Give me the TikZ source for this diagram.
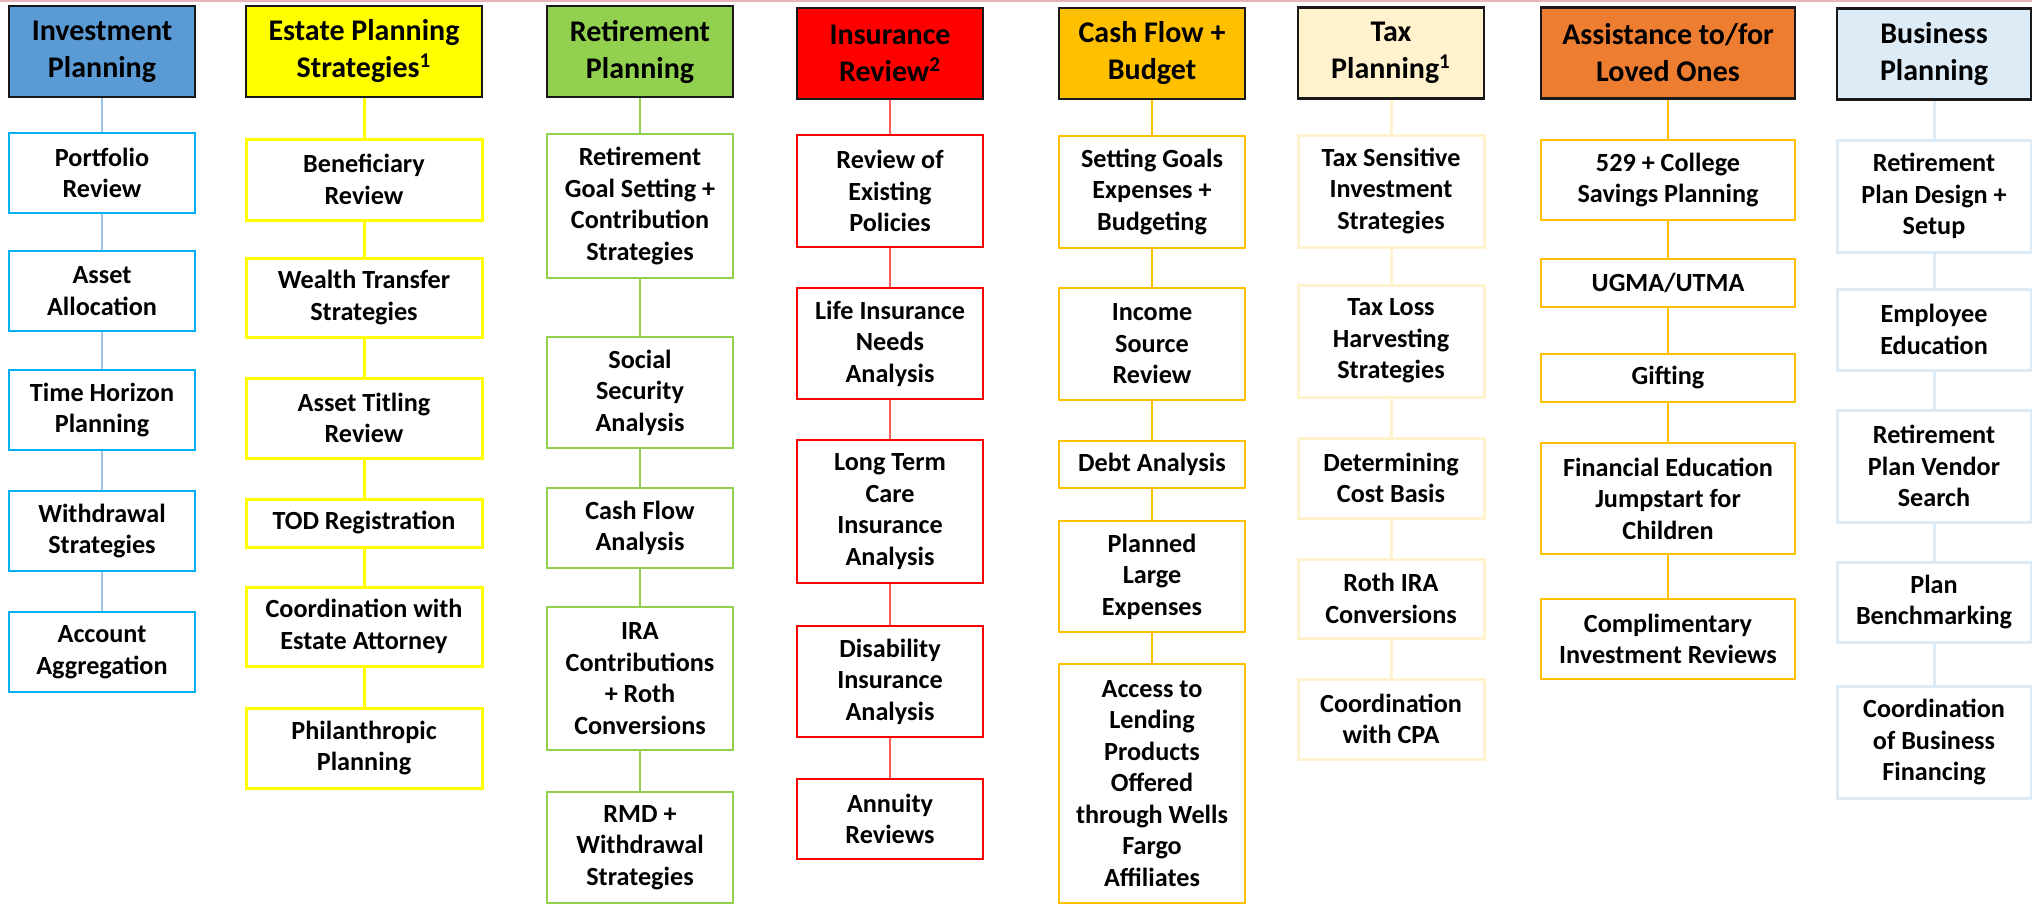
\documentclass[tikz,border=0pt]{standalone}
\usepackage{fontspec}
\setmainfont{Carlito}
\usepackage{tikz}

\definecolor{invblue}{HTML}{5B9BD5}
\definecolor{invline}{HTML}{00B0F0}
\definecolor{invconn}{HTML}{9DC3E6}
\definecolor{estyellow}{HTML}{FFFF00}
\definecolor{retgreen}{HTML}{92D050}
\definecolor{insred}{HTML}{FF0000}
\definecolor{insconn}{HTML}{FF5B5B}
\definecolor{cashgold}{HTML}{FFC000}
\definecolor{taxcream}{HTML}{FFF2CC}
\definecolor{lovedorange}{HTML}{ED7D31}
\definecolor{busblue}{HTML}{DDEBF7}
\definecolor{topline}{HTML}{E8B4BC}

\begin{document}
\begin{tikzpicture}[x=0.5pt,y=-0.5pt,
  hd/.style={draw=black!90, line width=1.2pt, minimum height=45.5pt, align=center, inner sep=0pt,
    font=\fontsize{15pt}{18.5pt}\selectfont\bfseries},
  item/.style={fill=white, line width=1pt, align=center, inner sep=0pt,
    font=\fontsize{13.1pt}{15.75pt}\selectfont\bfseries},
  w186/.style={minimum width=93pt},
  w236/.style={minimum width=118pt},
  w254/.style={minimum width=127pt},
  w194/.style={minimum width=97pt}]
\useasboundingbox (0,0) rectangle (2032,904);
\draw [topline, line width=0.8pt] (0,0.8) -- (2032,0.8);

\node [hd, w186, fill=invblue] (inv) at (102,51.5) {Investment\\Planning};
\node [item, w186, draw=invline, minimum height=40pt] (inv1) at (102,173) {Portfolio\\Review};
\node [item, w186, draw=invline, minimum height=40pt] (inv2) at (102,291) {Asset\\Allocation};
\node [item, w186, draw=invline, minimum height=40pt] (inv3) at (102,410) {Time Horizon\\Planning};
\node [item, w186, draw=invline, minimum height=40pt] (inv4) at (102,531) {Withdrawal\\Strategies};
\node [item, w186, draw=invline, minimum height=40pt] (inv5) at (102,652) {Account\\Aggregation};
\draw [invconn, line width=0.7pt] (inv) -- (inv1) -- (inv2) -- (inv3) -- (inv4) -- (inv5);

\node [hd, w236, fill=estyellow] (est) at (364,51.5) {Estate Planning\\Strategies\textsuperscript{1}};
\node [item, w236, draw=estyellow, line width=1.5pt, minimum height=40.5pt] (est1) at (364,179.5) {Beneficiary\\Review};
\node [item, w236, draw=estyellow, line width=1.5pt, minimum height=39.5pt] (est2) at (364,297.5) {Wealth Transfer\\Strategies};
\node [item, w236, draw=estyellow, line width=1.5pt, minimum height=40pt] (est3) at (364,418) {Asset Titling\\Review};
\node [item, w236, draw=estyellow, line width=1.5pt, minimum height=24pt] (est4) at (364,523) {TOD Registration};
\node [item, w236, draw=estyellow, line width=1.5pt, minimum height=39.5pt] (est5) at (364,626.5) {Coordination with\\Estate Attorney};
\node [item, w236, draw=estyellow, line width=1.5pt, minimum height=40pt] (est6) at (364,748) {Philanthropic\\Planning};
\draw [estyellow, line width=1.5pt] (est) -- (est1) -- (est2) -- (est3) -- (est4) -- (est5) -- (est6);

\node [hd, w186, fill=retgreen] (ret) at (640,51.5) {Retirement\\Planning};
\node [item, w186, draw=retgreen, minimum height=72pt] (ret1) at (640,206) {Retirement\\Goal Setting +\\Contribution\\Strategies};
\node [item, w186, draw=retgreen, minimum height=55.5pt] (ret2) at (640,392.5) {Social\\Security\\Analysis};
\node [item, w186, draw=retgreen, minimum height=40pt] (ret3) at (640,528) {Cash Flow\\Analysis};
\node [item, w186, draw=retgreen, minimum height=71.5pt] (ret4) at (640,678.5) {IRA\\Contributions\\+ Roth\\Conversions};
\node [item, w186, draw=retgreen, minimum height=55.5pt] (ret5) at (640,847.5) {RMD +\\Withdrawal\\Strategies};
\draw [retgreen, line width=0.7pt] (ret) -- (ret1) -- (ret2) -- (ret3) -- (ret4) -- (ret5);

\node [hd, w186, fill=insred] (ins) at (890,53.5) {Insurance\\Review\textsuperscript{2}};
\node [item, w186, draw=insred, minimum height=56pt] (ins1) at (890,191) {Review of\\Existing\\Policies};
\node [item, w186, draw=insred, minimum height=55.5pt] (ins2) at (890,343.5) {Life Insurance\\Needs\\Analysis};
\node [item, w186, draw=insred, minimum height=71.5pt] (ins3) at (890,511.5) {Long Term\\Care\\Insurance\\Analysis};
\node [item, w186, draw=insred, minimum height=55.5pt] (ins4) at (890,681.5) {Disability\\Insurance\\Analysis};
\node [item, w186, draw=insred, minimum height=40pt] (ins5) at (890,819) {Annuity\\Reviews};
\draw [insconn, line width=0.7pt] (ins) -- (ins1) -- (ins2) -- (ins3) -- (ins4) -- (ins5);

\node [hd, w186, fill=cashgold] (cash) at (1152,53.5) {Cash Flow +\\Budget};
\node [item, w186, draw=cashgold, minimum height=56pt] (cash1) at (1152,192) {Setting Goals\\Expenses +\\Budgeting};
\node [item, w186, draw=cashgold, minimum height=56pt] (cash2) at (1152,344) {Income\\Source\\Review};
\node [item, w186, draw=cashgold, minimum height=23.5pt] (cash3) at (1152,464.5) {Debt Analysis};
\node [item, w186, draw=cashgold, minimum height=55.5pt] (cash4) at (1152,576.5) {Planned\\Large\\Expenses};
\node [item, w186, draw=cashgold, minimum height=119.5pt] (cash5) at (1152,783.5) {Access to\\Lending\\Products\\Offered\\through Wells\\Fargo\\Affiliates};
\draw [cashgold, line width=0.7pt] (cash) -- (cash1) -- (cash2) -- (cash3) -- (cash4) -- (cash5);

\node [hd, w186, fill=taxcream] (tax) at (1391,53) {Tax\\Planning\textsuperscript{1}};
\node [item, w186, draw=taxcream, line width=1.5pt, minimum height=56pt] (tax1) at (1391,191) {Tax Sensitive\\Investment\\Strategies};
\node [item, w186, draw=taxcream, line width=1.5pt, minimum height=56pt] (tax2) at (1391,341) {Tax Loss\\Harvesting\\Strategies};
\node [item, w186, draw=taxcream, line width=1.5pt, minimum height=40pt] (tax3) at (1391,478) {Determining\\Cost Basis};
\node [item, w186, draw=taxcream, line width=1.5pt, minimum height=39.5pt] (tax4) at (1391,598.5) {Roth IRA\\Conversions};
\node [item, w186, draw=taxcream, line width=1.5pt, minimum height=40pt] (tax5) at (1391,719) {Coordination\\with CPA};
\draw [taxcream, line width=1.5pt] (tax) -- (tax1) -- (tax2) -- (tax3) -- (tax4) -- (tax5);

\node [hd, w254, fill=lovedorange] (love) at (1668,53) {Assistance to/for\\Loved Ones};
\node [item, w254, draw=cashgold, minimum height=40pt] (love1) at (1668,180) {529 + College\\Savings Planning};
\node [item, w254, draw=cashgold, minimum height=24pt] (love2) at (1668,283) {UGMA/UTMA};
\node [item, w254, draw=cashgold, minimum height=24pt] (love3) at (1668,378) {Gifting};
\node [item, w254, draw=cashgold, minimum height=55.5pt] (love4) at (1668,498.5) {Financial Education\\Jumpstart for\\Children};
\node [item, w254, draw=cashgold, minimum height=40pt] (love5) at (1668,639) {Complimentary\\Investment Reviews};
\draw [cashgold, line width=0.7pt] (love) -- (love1) -- (love2) -- (love3) -- (love4) -- (love5);

\node [hd, w194, fill=busblue] (bus) at (1934,54) {Business\\Planning};
\node [item, w194, draw=busblue, line width=1.5pt, minimum height=56pt] (bus1) at (1934,196) {Retirement\\Plan Design +\\Setup};
\node [item, w194, draw=busblue, line width=1.5pt, minimum height=40.5pt] (bus2) at (1934,329.5) {Employee\\Education};
\node [item, w194, draw=busblue, line width=1.5pt, minimum height=56pt] (bus3) at (1934,466) {Retirement\\Plan Vendor\\Search};
\node [item, w194, draw=busblue, line width=1.5pt, minimum height=40pt] (bus4) at (1934,602) {Plan\\Benchmarking};
\node [item, w194, draw=busblue, line width=1.5pt, minimum height=56pt] (bus5) at (1934,742) {Coordination\\of Business\\Financing};
\draw [busblue, line width=1.5pt] (bus) -- (bus1) -- (bus2) -- (bus3) -- (bus4) -- (bus5);
\end{tikzpicture}
\end{document}
